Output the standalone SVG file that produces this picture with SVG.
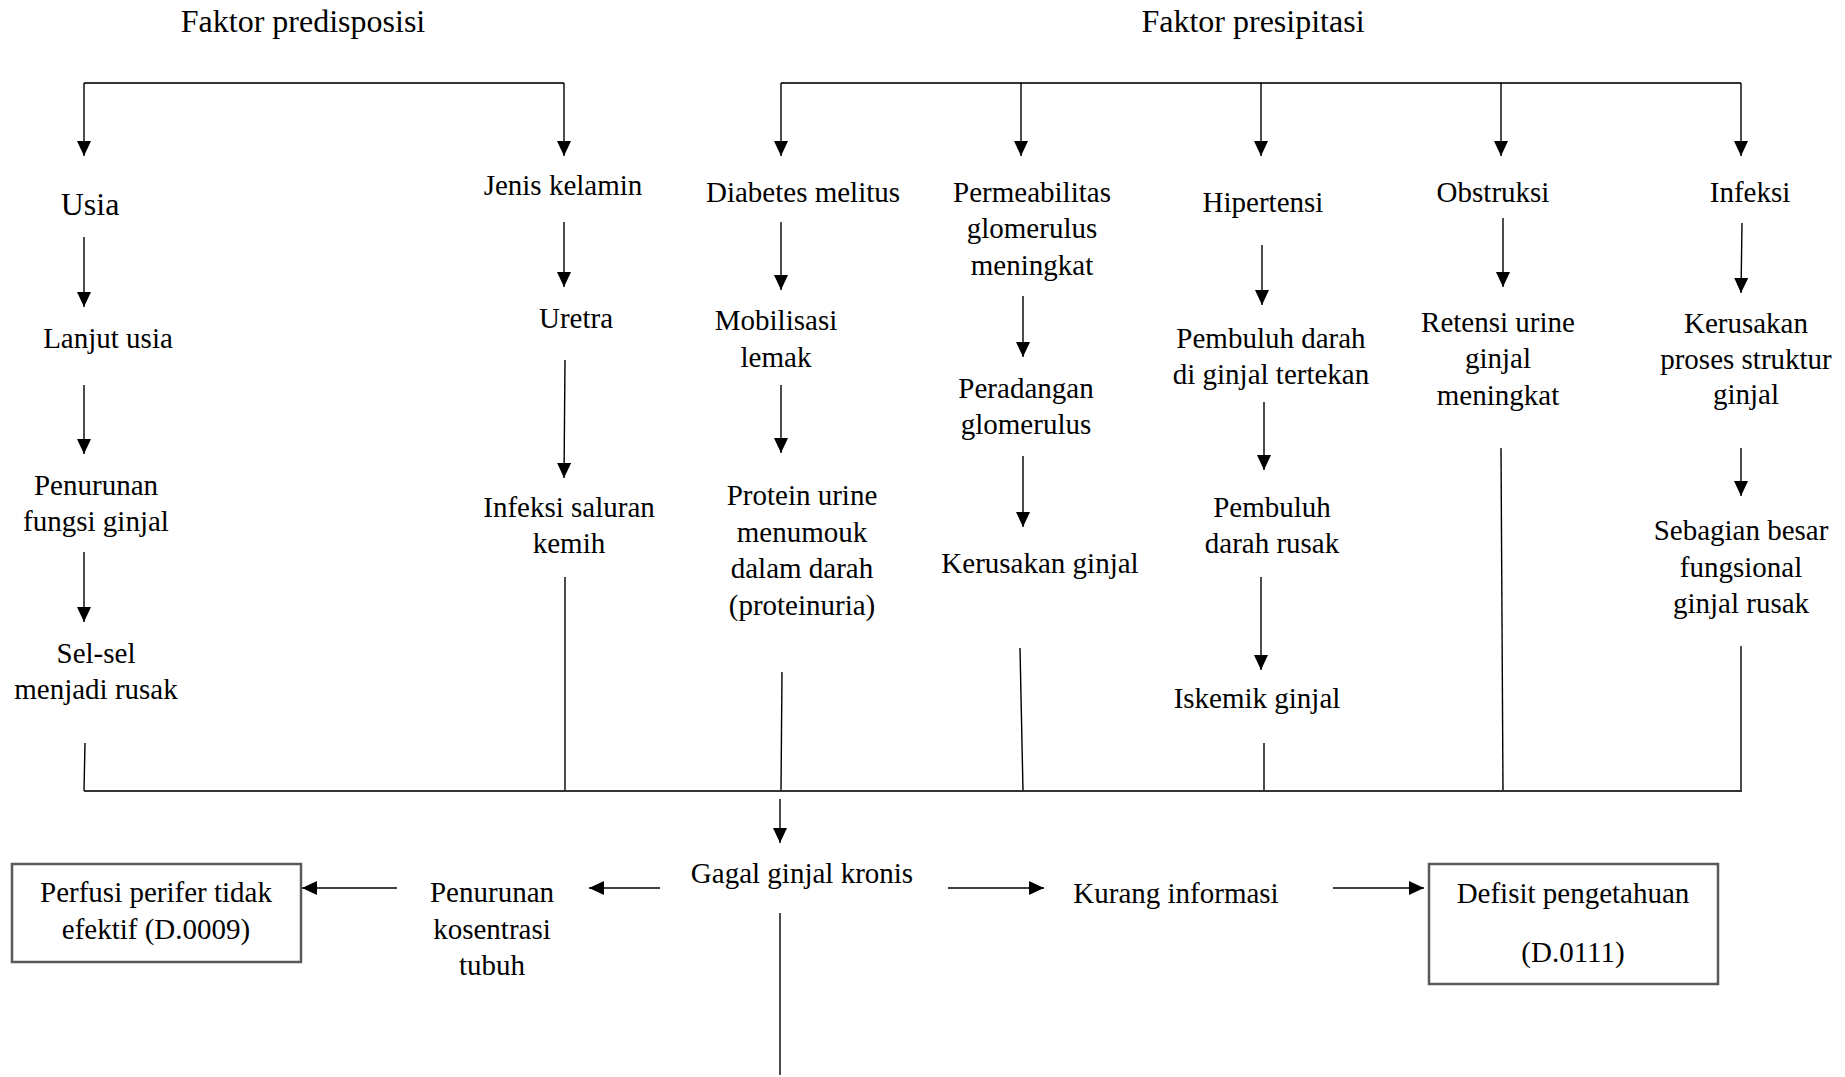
<svg xmlns="http://www.w3.org/2000/svg" width="1845" height="1077" viewBox="0 0 1845 1077">
<style>
text{font-family:"Liberation Serif","Times New Roman",serif;font-size:29px;fill:#000;text-anchor:middle}
.title{font-size:32px}
.big{font-size:32px}
.ln{fill:none;stroke:#000;stroke-width:1.4}
.bar{fill:none;stroke:#333;stroke-width:2}
.arr{fill:none;stroke:#000;stroke-width:1.4;marker-end:url(#ah)}
.box{fill:#fff;stroke:#5a5a5a;stroke-width:2.5}
</style>
<defs>
<marker id="ah" markerUnits="userSpaceOnUse" markerWidth="15" markerHeight="14" refX="15" refY="7" orient="auto">
<path d="M0,0 L15,7 L0,14 Z" fill="#000"/>
</marker>
</defs>
<rect width="1845" height="1077" fill="#fff"/>
<g id="connectors">
<path class="bar" d="M84,83 H564"/>
<path class="arr" d="M84,83 V156"/>
<path class="arr" d="M564,83 V156"/>
<path class="bar" d="M781,83 H1741"/>
<path class="arr" d="M781,83 V156"/>
<path class="arr" d="M1021,83 V156"/>
<path class="arr" d="M1261,83 V156"/>
<path class="arr" d="M1501,83 V156"/>
<path class="arr" d="M1741,83 V156"/>
<path class="arr" d="M84,237 V307"/>
<path class="arr" d="M84,385 V454"/>
<path class="arr" d="M84,552 V622"/>
<path class="ln" d="M85,743 L84,791"/>
<path class="arr" d="M564,222 V287"/>
<path class="arr" d="M565,360 L564,478"/>
<path class="ln" d="M565,577 V791"/>
<path class="arr" d="M781,222 V290"/>
<path class="arr" d="M781,385 V453"/>
<path class="ln" d="M782,672 L781,791"/>
<path class="arr" d="M1023,296 V357"/>
<path class="arr" d="M1023,456 V527"/>
<path class="ln" d="M1020,648 L1023,791"/>
<path class="arr" d="M1262,245 V305"/>
<path class="arr" d="M1264,402 V470"/>
<path class="arr" d="M1261,577 V670"/>
<path class="ln" d="M1264,743 V791"/>
<path class="arr" d="M1503,218 V287"/>
<path class="ln" d="M1501,448 L1503,791"/>
<path class="arr" d="M1742,223 L1741,293"/>
<path class="arr" d="M1741,448 V496"/>
<path class="ln" d="M1741,646 V791"/>
<path class="bar" d="M84,791 H1742"/>
<path class="arr" d="M780,799 V843"/>
<path class="arr" d="M660,888 H589"/>
<path class="arr" d="M397,888 H302"/>
<path class="ln" d="M780,913 V1075"/>
<path class="arr" d="M948,888 H1044"/>
<path class="arr" d="M1333,888 H1424"/>
</g>
<g id="title-predisposisi"><text class="title" x="303" y="32">Faktor predisposisi</text></g>
<g id="title-presipitasi"><text class="title" x="1253" y="32">Faktor presipitasi</text></g>
<g id="usia"><text class="big" x="90" y="215">Usia</text></g>
<g id="lanjut-usia"><text x="108" y="348">Lanjut usia</text></g>
<g id="penurunan-fungsi"><text x="96" y="495">Penurunan<tspan x="96" y="531">fungsi ginjal</tspan></text></g>
<g id="sel-sel"><text x="96" y="663">Sel-sel<tspan x="96" y="699">menjadi rusak</tspan></text></g>
<g id="jenis-kelamin"><text x="563" y="195">Jenis kelamin</text></g>
<g id="uretra"><text x="576" y="328">Uretra</text></g>
<g id="infeksi-saluran"><text x="569" y="517">Infeksi saluran<tspan x="569" y="553">kemih</tspan></text></g>
<g id="diabetes"><text x="803" y="202">Diabetes melitus</text></g>
<g id="mobilisasi"><text x="776" y="330">Mobilisasi<tspan x="776" y="367">lemak</tspan></text></g>
<g id="protein-urine"><text x="802" y="505">Protein urine<tspan x="802" y="542">menumouk</tspan><tspan x="802" y="578">dalam darah</tspan><tspan x="802" y="615">(proteinuria)</tspan></text></g>
<g id="permeabilitas"><text x="1032" y="202">Permeabilitas<tspan x="1032" y="238">glomerulus</tspan><tspan x="1032" y="275">meningkat</tspan></text></g>
<g id="peradangan"><text x="1026" y="398">Peradangan<tspan x="1026" y="434">glomerulus</tspan></text></g>
<g id="kerusakan-ginjal"><text x="1040" y="573">Kerusakan ginjal</text></g>
<g id="hipertensi"><text x="1263" y="212">Hipertensi</text></g>
<g id="pembuluh-tertekan"><text x="1271" y="348">Pembuluh darah<tspan x="1271" y="384">di ginjal tertekan</tspan></text></g>
<g id="pembuluh-rusak"><text x="1272" y="517">Pembuluh<tspan x="1272" y="553">darah rusak</tspan></text></g>
<g id="iskemik"><text x="1257" y="708">Iskemik ginjal</text></g>
<g id="obstruksi"><text x="1493" y="202">Obstruksi</text></g>
<g id="retensi"><text x="1498" y="332">Retensi urine<tspan x="1498" y="368">ginjal</tspan><tspan x="1498" y="405">meningkat</tspan></text></g>
<g id="infeksi"><text x="1750" y="202">Infeksi</text></g>
<g id="kerusakan-proses"><text x="1746" y="333">Kerusakan<tspan x="1746" y="369">proses struktur</tspan><tspan x="1746" y="404">ginjal</tspan></text></g>
<g id="sebagian-besar"><text x="1741" y="540">Sebagian besar<tspan x="1741" y="577">fungsional</tspan><tspan x="1741" y="613">ginjal rusak</tspan></text></g>
<g id="gagal-ginjal"><text x="802" y="883">Gagal ginjal kronis</text></g>
<g id="penurunan-kosentrasi"><text x="492" y="902">Penurunan<tspan x="492" y="939">kosentrasi</tspan><tspan x="492" y="975">tubuh</tspan></text></g>
<g id="perfusi"><rect class="box" x="12" y="864" width="289" height="98"/><text x="156" y="902">Perfusi perifer tidak<tspan x="156" y="939">efektif (D.0009)</tspan></text></g>
<g id="kurang-informasi"><text x="1176" y="903">Kurang informasi</text></g>
<g id="defisit"><rect class="box" x="1429" y="864" width="289" height="120"/><text x="1573" y="903">Defisit pengetahuan<tspan x="1573" y="962">(D.0111)</tspan></text></g>
</svg>
